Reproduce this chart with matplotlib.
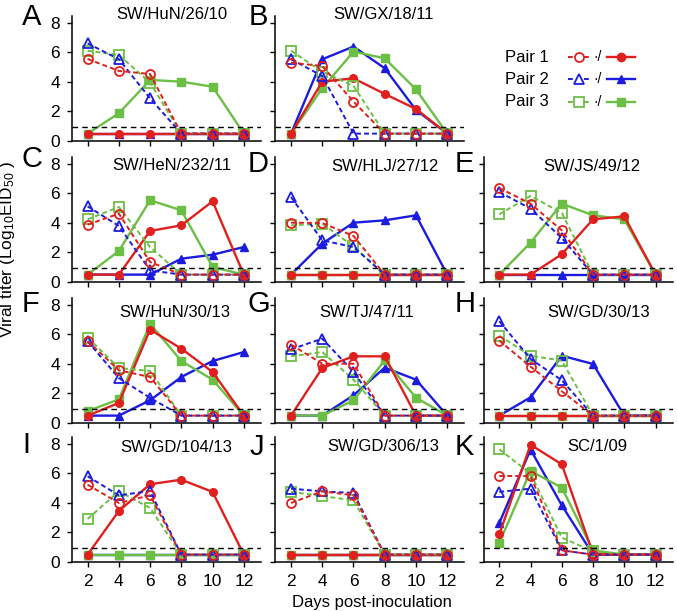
import matplotlib
matplotlib.use('Agg')
import matplotlib.pyplot as plt
from matplotlib.lines import Line2D

plt.rcParams['font.family'] = ['Liberation Sans', 'DejaVu Sans']
plt.rcParams['mathtext.fontset'] = 'custom'
plt.rcParams['mathtext.rm'] = 'Liberation Sans'
plt.rcParams['mathtext.it'] = 'Liberation Sans:italic'
plt.rcParams['mathtext.bf'] = 'Liberation Sans:bold'

days = [2, 4, 6, 8, 10, 12]
pair_names = ['Pair 1', 'Pair 2', 'Pair 3']
limit = 0.95

# each panel: [pair 1, pair 2, pair 3]; open = dashed/open symbols, filled = solid
A_open = [[5.56, 4.75, 4.54, 0.5, 0.5, 0.5],
          [6.62, 5.54, 2.89, 0.5, 0.5, 0.5],
          [6.12, 5.83, 3.95, 0.5, 0.5, 0.5]]
A_filled = [[0.5, 0.5, 0.5, 0.5, 0.5, 0.5],
            [0.5, 0.5, 0.5, 0.5, 0.5, 0.5],
            [0.5, 1.88, 4.14, 4.02, 3.68, 0.5]]

B_open = [[5.31, 5.08, 2.67, 0.5, 0.5, 0.5],
          [5.54, 4.41, 0.5, 0.5, 0.5, 0.5],
          [6.12, 4.7, 3.73, 0.5, 0.5, 0.5]]
B_filled = [[0.5, 4.02, 4.25, 3.19, 2.17, 0.5],
            [0.5, 5.54, 6.4, 4.93, 2.1, 0.5],
            [0.5, 3.57, 6.06, 5.6, 3.5, 0.5]]

C_open = [[3.89, 4.63, 1.36, 0.5, 0.5, 0.5],
          [5.13, 3.8, 0.79, 0.5, 0.5, 0.5],
          [4.25, 5.08, 2.37, 0.5, 0.5, 0.5]]
C_filled = [[0.5, 0.5, 3.46, 3.84, 5.47, 0.5],
            [0.5, 0.5, 0.5, 1.58, 1.85, 2.37],
            [0.5, 2.1, 5.54, 4.86, 1.02, 0.5]]

D_open = [[4.02, 4.0, 3.12, 0.5, 0.5, 0.5],
          [5.76, 2.82, 2.37, 0.5, 0.5, 0.5],
          [3.84, 3.95, 2.42, 0.5, 0.5, 0.5]]
D_filled = [[0.5, 0.5, 0.5, 0.5, 0.5, 0.5],
            [0.5, 2.6, 4.02, 4.18, 4.52, 0.5],
            [0.5, 0.5, 0.5, 0.5, 0.5, 0.5]]

E_open = [[6.37, 5.31, 3.5, 0.5, 0.5, 0.5],
          [6.1, 4.97, 2.98, 0.5, 0.5, 0.5],
          [4.59, 5.83, 4.68, 0.5, 0.5, 0.5]]
E_filled = [[0.5, 0.5, 1.88, 4.25, 4.45, 0.5],
            [0.5, 0.5, 0.5, 0.5, 0.5, 0.5],
            [0.5, 2.67, 5.31, 4.52, 4.25, 0.5]]

F_open = [[5.56, 3.57, 3.12, 0.5, 0.5, 0.5],
          [5.54, 3.05, 1.7, 0.5, 0.5, 0.5],
          [5.79, 3.73, 3.53, 0.5, 0.5, 0.5]]
F_filled = [[0.5, 1.36, 6.33, 5.04, 3.46, 0.5],
            [0.5, 0.5, 1.54, 3.12, 4.2, 4.81],
            [0.81, 1.6, 6.73, 4.2, 2.94, 0.5]]

G_open = [[5.31, 4.02, 4.02, 0.5, 0.5, 0.5],
          [4.99, 5.72, 3.46, 0.5, 0.5, 0.5],
          [4.52, 4.81, 2.94, 0.5, 0.5, 0.5]]
G_filled = [[0.5, 3.73, 4.52, 4.52, 0.5, 0.5],
            [0.5, 0.5, 1.88, 3.75, 2.94, 0.5],
            [0.5, 0.5, 1.54, 4.25, 1.72, 0.5]]

H_open = [[5.58, 3.82, 2.15, 0.5, 0.5, 0.5],
          [6.9, 4.34, 2.9, 0.5, 0.5, 0.5],
          [5.92, 4.56, 4.23, 0.5, 0.5, 0.5]]
H_filled = [[0.5, 0.5, 0.5, 0.5, 0.5, 0.5],
            [0.5, 1.74, 4.56, 4.0, 0.5, 0.5],
            [0.5, 0.5, 0.5, 0.5, 0.5, 0.5]]

I_open = [[5.24, 4.0, 4.52, 0.5, 0.5, 0.5],
          [5.81, 4.52, 4.81, 0.5, 0.5, 0.5],
          [2.92, 4.79, 3.66, 0.5, 0.5, 0.5]]
I_filled = [[0.5, 3.46, 5.27, 5.58, 4.75, 0.5],
            [0.5, 0.5, 0.5, 0.5, 0.5, 0.5],
            [0.5, 0.5, 0.5, 0.5, 0.5, 0.5]]

J_open = [[4.0, 4.79, 4.52, 0.5, 0.5, 0.5],
          [4.97, 4.79, 4.68, 0.5, 0.5, 0.5],
          [4.75, 4.47, 4.18, 0.5, 0.5, 0.5]]
J_filled = [[0.5, 0.5, 0.5, 0.5, 0.5, 0.5],
            [0.5, 0.5, 0.5, 0.5, 0.5, 0.5],
            [0.5, 0.5, 0.5, 0.5, 0.5, 0.5]]

K_open = [[5.83, 5.83, 0.79, 0.5, 0.5, 0.5],
          [4.75, 4.97, 0.79, 0.5, 0.5, 0.5],
          [7.64, 5.99, 1.65, 0.72, 0.5, 0.5]]
K_filled = [[1.88, 7.95, 6.62, 0.56, 0.5, 0.5],
            [2.64, 7.62, 3.84, 0.5, 0.5, 0.5],
            [1.31, 6.17, 5.04, 0.79, 0.5, 0.5]]

# letter, strain, open, filled, row, col, title x/y (data), letter x / baseline (px)
panels = [
    ('A', 'SW/HuN/26/10', A_open, A_filled, 0, 0, 7.4, 8.6, 22, 25),
    ('B', 'SW/GX/18/11', B_open, B_filled, 0, 1, 7.9, 8.6, 249, 25),
    ('C', 'SW/HeN/232/11', C_open, C_filled, 1, 0, 7.4, 7.9, 22, 167),
    ('D', 'SW/HLJ/27/12', D_open, D_filled, 1, 1, 8.0, 7.86, 248, 172),
    ('E', 'SW/JS/49/12', E_open, E_filled, 1, 2, 7.94, 7.86, 455, 172),
    ('F', 'SW/HuN/30/13', F_open, F_filled, 2, 0, 7.6, 7.46, 22, 312),
    ('G', 'SW/TJ/47/11', G_open, G_filled, 2, 1, 6.87, 7.46, 248, 312),
    ('H', 'SW/GD/30/13', H_open, H_filled, 2, 2, 8.33, 7.5, 455, 312),
    ('I', 'SW/GD/104/13', I_open, I_filled, 3, 0, 7.67, 7.73, 22, 453),
    ('J', 'SW/GD/306/13', J_open, J_filled, 3, 1, 7.9, 7.86, 250, 455),
    ('K', 'SC/1/09', K_open, K_filled, 3, 2, 8.26, 7.86, 455, 455),
]

colors = ['#e0201e', '#1c1ce0', '#6cbf45']
markers = ['o', '^', 's']

W, H = 677, 611
fig = plt.figure(figsize=(W / 100, H / 100), dpi=100)

col_left = [72, 275.4, 483.7]
row_zero = [141, 282, 423, 562]
axw, axh = 189, 125.4

for letter, name, opn, fil, row, col, tx, ty, lx, ly in panels:
    ax = fig.add_axes([col_left[col] / W, 1 - row_zero[row] / H, axw / W, axh / H])
    for k in [1, 2, 0]:
        ax.plot(days, fil[k], color=colors[k], lw=1.7, marker=markers[k],
                ms=5.5, mfc=colors[k], mec=colors[k], clip_on=False)
    for k in [2, 1, 0]:
        ax.plot(days, opn[k], color=colors[k], lw=1.4, ls=(0, (2.5, 1.6)),
                marker=markers[k], ms=6.5, mfc='none', mec=colors[k], mew=1.3,
                clip_on=False)
    ax.axhline(limit, color='black', lw=1.0, ls=(0, (4, 3)))
    ax.set_xlim(1, 13.1)
    ax.set_ylim(0, 8.5)
    ax.set_xticks(days)
    ax.set_yticks([0, 2, 4, 6, 8])
    if row != 3:
        ax.set_xticklabels([])
    if col != 0:
        ax.set_yticklabels([])
    for s in ['top', 'right']:
        ax.spines[s].set_visible(False)
    for s in ['left', 'bottom']:
        ax.spines[s].set_linewidth(1.1)
    ax.tick_params(direction='out', length=3.5, width=1.0, labelsize=12.5, pad=5)
    ax.text(tx, ty, name, fontsize=12, ha='center', va='center')
    fig.text(lx / W, 1 - ly / H, letter, fontsize=21, ha='left', va='baseline')

# legend
leg_y = [57, 79, 102]
for k in range(3):
    y = 1 - leg_y[k] / H
    fig.text(505 / W, y, pair_names[k], fontsize=12, ha='left', va='center')
    fig.add_artist(Line2D([568 / W, 589 / W], [y, y], color=colors[k], lw=1.4,
                          ls=(0, (2.5, 1.6))))
    fig.add_artist(Line2D([578.5 / W], [y], marker=markers[k], ms=6.5, mfc='white',
                          mec=colors[k], mew=1.3, color=colors[k]))
    fig.text(598 / W, y, '·/', fontsize=10, ha='center', va='center')
    fig.add_artist(Line2D([607 / W, 635 / W], [y, y], color=colors[k], lw=1.7))
    fig.add_artist(Line2D([621 / W], [y], marker=markers[k], ms=6, mfc=colors[k],
                          mec=colors[k], color=colors[k]))

fig.text(8 / W, 1 - 250 / H, 'Viral titer (Log$_{10}$EID$_{50}$ )', rotation=90,
         fontsize=12.5, ha='center', va='center')
fig.text(372 / W, 1 - 602 / H, 'Days post-inoculation', fontsize=12,
         ha='center', va='center')

fig.savefig('out.png', dpi=100)
